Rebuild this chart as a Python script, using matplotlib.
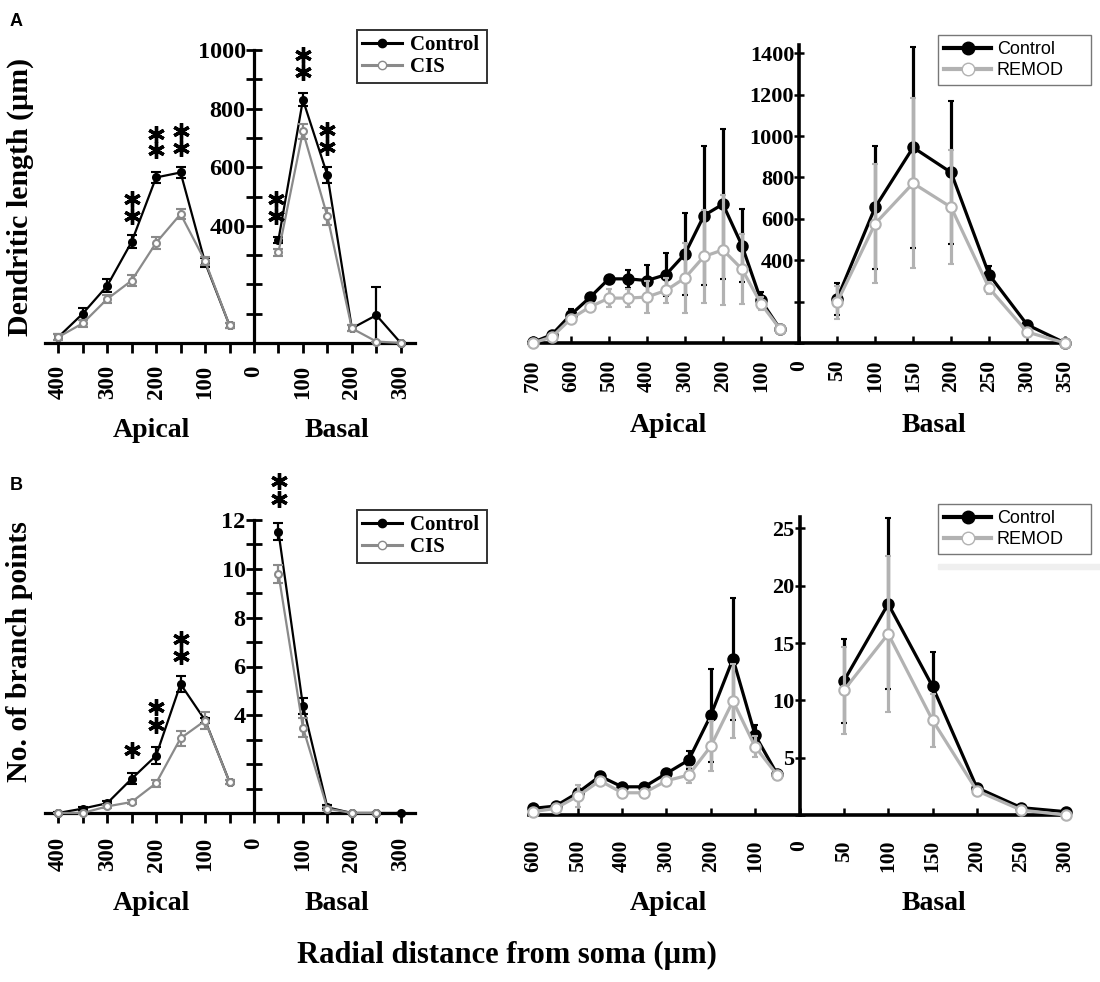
import numpy as np
from matplotlib import pyplot as plt
from matplotlib.lines import Line2D
from matplotlib.patches import Rectangle

# ---------------- data ----------------
# A left: dendritic length, Control vs CIS (x = radial distance, um)
a1_apical_d = [400, 350, 300, 250, 200, 150, 100, 50]
a1_ctl_apical = [20, 100, 195, 345, 565, 582, 275, 60]
a1_ctl_apical_err = [10, 20, 22, 22, 20, 18, 15, 8]
a1_cis_apical = [20, 67, 150, 213, 342, 440, 280, 60]
a1_cis_apical_err = [10, 12, 15, 18, 20, 18, 15, 8]
a1_basal_d = [50, 100, 150, 200, 250, 300]
a1_ctl_basal = [352, 830, 573, 50, 95, 0]
a1_ctl_basal_err = [10, 22, 27, 10, 95, 0]
a1_cis_basal = [310, 722, 432, 50, 5, 0]
a1_cis_basal_err = [12, 25, 30, 10, 0, 0]
a1_sig_d = [-250, -250, -200, -200, -150, -150, 45, 45, 100, 100, 150, 150]
a1_sig_y = [490, 433, 715, 660, 725, 665, 490, 433, 983, 925, 728, 670]

# A right: dendritic length, Control vs REMOD
a2_apical_d = [700, 650, 600, 550, 500, 450, 400, 350, 300, 250, 200, 150, 100, 50]
a2_ctl_apical = [3, 40, 137, 220, 310, 310, 302, 330, 430, 616, 671, 471, 206, 68]
a2_ctl_apical_err = [5, 8, 27, 13, 10, 43, 75, 105, 200, 336, 364, 177, 40, 8]
a2_rem_apical = [0, 29, 117, 174, 217, 217, 222, 254, 314, 418, 450, 357, 190, 68]
a2_rem_apical_err = [3, 8, 20, 15, 43, 43, 78, 60, 170, 226, 266, 170, 30, 8]
a2_basal_d = [50, 100, 150, 200, 250, 300, 350]
a2_ctl_basal = [212, 655, 945, 824, 330, 88, 0]
a2_ctl_basal_err = [78, 297, 487, 346, 40, 15, 0]
a2_rem_basal = [196, 576, 772, 656, 265, 53, 0]
a2_rem_basal_err = [80, 288, 411, 275, 30, 10, 0]

# B left: branch points, Control vs CIS
b1_apical_d = [400, 350, 300, 250, 200, 150, 100, 50]
b1_ctl_apical = [0, 0.18, 0.4, 1.4, 2.35, 5.28, 3.8, 1.27]
b1_ctl_apical_err = [0.03, 0.08, 0.08, 0.23, 0.34, 0.33, 0.1, 0.1]
b1_cis_apical = [0, 0, 0.27, 0.45, 1.22, 3.06, 3.78, 1.27]
b1_cis_apical_err = [0.02, 0.03, 0.06, 0.08, 0.15, 0.3, 0.34, 0.1]
b1_ctl_basal_d = [50, 100, 150, 200, 250, 300]
b1_ctl_basal = [11.52, 4.4, 0.23, 0, 0, 0]
b1_ctl_basal_err = [0.34, 0.33, 0.08, 0, 0, 0]
b1_cis_basal_d = [50, 100, 150, 200, 250]
b1_cis_basal = [9.8, 3.5, 0.18, 0, 0]
b1_cis_basal_err = [0.37, 0.4, 0.05, 0, 0]
b1_sig_d = [-250, -200, -200, -150, -150, 51, 51]
b1_sig_y = [2.58, 4.33, 3.6, 7.14, 6.43, 13.6, 12.86]

# B right: branch points, Control vs REMOD
b2_apical_d = [600, 550, 500, 450, 400, 350, 300, 250, 200, 150, 100, 50]
b2_ctl_apical = [0.58, 0.78, 1.94, 3.39, 2.46, 2.46, 3.63, 4.79, 8.7, 13.63, 6.96, 3.54]
b2_ctl_apical_err = [0.1, 0.1, 0.3, 0.3, 0.15, 0.15, 0.3, 0.8, 4.06, 5.3, 0.9, 0.1]
b2_rem_apical = [0.29, 0.58, 1.65, 2.99, 1.94, 1.94, 2.99, 3.48, 6.0, 9.95, 5.95, 3.48]
b2_rem_apical_err = [0.1, 0.1, 0.95, 0.3, 0.2, 0.2, 0.3, 0.7, 2.2, 3.2, 0.9, 0.1]
b2_basal_d = [50, 100, 150, 200, 250, 300]
b2_ctl_basal = [11.69, 18.42, 11.22, 2.38, 0.64, 0.29]
b2_ctl_basal_err = [3.68, 7.45, 3.0, 0.1, 0.1, 0.05]
b2_rem_basal = [10.88, 15.8, 8.27, 2.12, 0.43, 0.0]
b2_rem_basal_err = [3.77, 6.8, 2.3, 0.1, 0.1, 0]

# tick labels
left_xlabels = ['400', '300', '200', '100', '0', '100', '200', '300']
a2_xlabels = ['700', '600', '500', '400', '300', '200', '100', '0',
              '50', '100', '150', '200', '250', '300', '350']
b2_xlabels = ['600', '500', '400', '300', '200', '100', '0',
              '50', '100', '150', '200', '250', '300']
a1_ylabels = ['', '', '400', '600', '800', '1000']
b1_ylabels = ['', '', '4', '6', '8', '10', '12']
a2_ylabels = ['', '', '400', '600', '800', '1000', '1200', '1400']
b2_ylabels = ['', '5', '10', '15', '20', '25']

# ---------------- figure ----------------
plt.rcParams['font.family'] = ['Liberation Serif', 'DejaVu Serif']
plt.rcParams['font.weight'] = 'bold'
W, H = 1100, 982
fig = plt.figure(figsize=(11, 9.82), dpi=100)

def box(l, t, r, b):
    return [l / W, 1 - b / H, (r - l) / W, (b - t) / H]

DARK = 'black'
GREY_L = '#8a8a8a'   # CIS
GREY_R = '#b2b2b2'   # REMOD


def setup_axes(ax, spine_w):
    ax.patch.set_alpha(0)
    for s in ['top', 'right']:
        ax.spines[s].set_visible(False)
    ax.spines['left'].set_position(('data', 0))
    ax.spines['left'].set_linewidth(spine_w)
    ax.spines['bottom'].set_linewidth(spine_w)
    ax.spines['left'].set_zorder(1)
    ax.spines['bottom'].set_zorder(1)


def draw(ax, x, y, e, color, mfc, ms, lw, cap, z):
    ax.errorbar(x, y, yerr=e, color=color, lw=lw, marker='o', ms=ms,
                mfc=mfc, mec=color, mew=1.5, capsize=cap, elinewidth=lw,
                capthick=lw, zorder=z, clip_on=False)


neg = lambda d: [-v for v in d]
LMS, LLW = 5, 1.6     # left panels: marker size, line width
RMS, RLW = 7.5, 2.3   # right panels

# ---- A left ----
ax = fig.add_axes(box(45, 50, 415, 343))
setup_axes(ax, 2.3)
draw(ax, neg(a1_apical_d), a1_ctl_apical, a1_ctl_apical_err, DARK, DARK, LMS, LLW, 3.5, 3)
draw(ax, a1_basal_d, a1_ctl_basal, a1_ctl_basal_err, DARK, DARK, LMS, LLW, 3.5, 3)
draw(ax, neg(a1_apical_d), a1_cis_apical, a1_cis_apical_err, GREY_L, 'white', LMS, LLW, 3.5, 4)
draw(ax, a1_basal_d, a1_cis_basal, a1_cis_basal_err, GREY_L, 'white', LMS, LLW, 3.5, 4)
ax.plot(a1_sig_d, a1_sig_y, ls='none', marker=(6, 2, 0), ms=12, mew=2.4,
        color='black', clip_on=False, zorder=5)
ax.set_xlim(-427, 329)
ax.set_ylim(0, 1000)
ax.set_xticks(np.arange(-400, 301, 100), left_xlabels)
ax.set_xticks(np.arange(-400, 301, 50), minor=True)
ax.set_yticks(np.arange(0, 1001, 200), a1_ylabels)
ax.set_yticks(np.arange(0, 1001, 100), minor=True)
ax.tick_params(axis='x', which='both', direction='out', length=7, width=2,
               labelrotation=90, labelsize=16.5, pad=9)
ax.tick_params(axis='y', which='both', direction='inout', length=12, width=2,
               labelsize=17.5, pad=0)

# ---- B left ----
ax = fig.add_axes(box(45, 520, 415, 813))
setup_axes(ax, 2.3)
draw(ax, neg(b1_apical_d), b1_ctl_apical, b1_ctl_apical_err, DARK, DARK, LMS, LLW, 3.5, 3)
draw(ax, b1_ctl_basal_d, b1_ctl_basal, b1_ctl_basal_err, DARK, DARK, LMS, LLW, 3.5, 3)
draw(ax, neg(b1_apical_d), b1_cis_apical, b1_cis_apical_err, GREY_L, 'white', LMS, LLW, 3.5, 4)
draw(ax, b1_cis_basal_d, b1_cis_basal, b1_cis_basal_err, GREY_L, 'white', LMS, LLW, 3.5, 4)
ax.plot(b1_sig_d, b1_sig_y, ls='none', marker=(6, 2, 0), ms=12, mew=2.4,
        color='black', clip_on=False, zorder=5)
ax.set_xlim(-427, 329)
ax.set_ylim(0, 12)
ax.set_xticks(np.arange(-400, 301, 100), left_xlabels)
ax.set_xticks(np.arange(-400, 301, 50), minor=True)
ax.set_yticks(np.arange(0, 13, 2), b1_ylabels)
ax.set_yticks(np.arange(0, 13, 1), minor=True)
ax.tick_params(axis='x', which='both', direction='out', length=7, width=2,
               labelrotation=90, labelsize=16.5, pad=10.5)
ax.tick_params(axis='y', which='both', direction='inout', length=12, width=2,
               labelsize=17.5, pad=0)

# right panels: apical scaled by 100 um per unit, basal by 50 um per unit
ap = lambda d: [-v / 100 for v in d]
ba = lambda d: [v / 50 for v in d]

# ---- A right ----
ax = fig.add_axes(box(529, 45, 1069, 343))
setup_axes(ax, 2.6)
draw(ax, ap(a2_apical_d), a2_ctl_apical, a2_ctl_apical_err, DARK, DARK, RMS, RLW, 2, 3)
draw(ax, ba(a2_basal_d), a2_ctl_basal, a2_ctl_basal_err, DARK, DARK, RMS, RLW, 2, 3)
draw(ax, ap(a2_apical_d), a2_rem_apical, a2_rem_apical_err, GREY_R, 'white', RMS, RLW, 2, 4)
draw(ax, ba(a2_basal_d), a2_rem_basal, a2_rem_basal_err, GREY_R, 'white', RMS, RLW, 2, 4)
ax.set_xlim(-7.1, 7.1)
ax.set_ylim(0, 1440)
ax.set_xticks(np.arange(-7, 8), a2_xlabels)
ax.set_yticks(np.arange(0, 1401, 200), a2_ylabels)
ax.tick_params(axis='x', direction='in', length=5, width=1.8,
               labelrotation=90, labelsize=15.5, pad=12)
ax.tick_params(axis='y', direction='inout', length=7, width=1.8,
               labelsize=16, pad=0)

# ---- B right ----
ax = fig.add_axes(box(529, 517, 1070, 815))
setup_axes(ax, 2.6)
draw(ax, ap(b2_apical_d), b2_ctl_apical, b2_ctl_apical_err, DARK, DARK, RMS, RLW, 2, 3)
draw(ax, ba(b2_basal_d), b2_ctl_basal, b2_ctl_basal_err, DARK, DARK, RMS, RLW, 2, 3)
draw(ax, ap(b2_apical_d), b2_rem_apical, b2_rem_apical_err, GREY_R, 'white', RMS, RLW, 2, 4)
draw(ax, ba(b2_basal_d), b2_rem_basal, b2_rem_basal_err, GREY_R, 'white', RMS, RLW, 2, 4)
ax.set_xlim(-6.1, 6.1)
ax.set_ylim(0, 26)
ax.set_xticks(np.arange(-6, 7), b2_xlabels)
ax.set_yticks(np.arange(0, 26, 5), b2_ylabels)
ax.tick_params(axis='x', direction='in', length=5, width=1.8,
               labelrotation=90, labelsize=15.5, pad=18)
ax.tick_params(axis='y', direction='inout', length=7, width=1.8,
               labelsize=16, pad=0)

# ---------------- legends ----------------
def left_legend(top):
    h = [Line2D([], [], color=DARK, lw=2.2, marker='o', ms=6),
         Line2D([], [], color=GREY_L, lw=2.2, marker='o', ms=6, mfc='white')]
    leg = fig.legend(h, ['Control', 'CIS'], loc='upper left',
                     bbox_to_anchor=(357 / W, 1 - top / H, 130 / W, 0),
                     mode='expand', borderaxespad=0, fancybox=False,
                     handlelength=1.9, handletextpad=0.4, labelspacing=0.1,
                     borderpad=0.25, prop={'family': 'Liberation Serif',
                                           'weight': 'bold', 'size': 15})
    leg.get_frame().set_edgecolor('black')
    leg.get_frame().set_linewidth(1.4)


def right_legend(top):
    h = [Line2D([], [], color=DARK, lw=3, marker='o', ms=9),
         Line2D([], [], color=GREY_R, lw=3, marker='o', ms=9, mfc='white')]
    leg = fig.legend(h, ['Control', 'REMOD'], loc='upper left',
                     bbox_to_anchor=(938 / W, 1 - top / H, 153 / W, 0),
                     mode='expand', borderaxespad=0, fancybox=False,
                     handlelength=2.6, handletextpad=0.3, labelspacing=0.2,
                     borderpad=0.35, prop={'family': 'Liberation Sans',
                                           'weight': 'normal', 'size': 13})
    leg.get_frame().set_edgecolor('#555555')
    leg.get_frame().set_linewidth(1.0)


left_legend(30)
left_legend(510)
right_legend(35)
right_legend(504)

# faint band under the lower right legend
fig.patches.append(Rectangle((938 / W, 1 - 569 / H), 162 / W, 5 / H,
                             transform=fig.transFigure, color='#efefef', zorder=0))

# ---------------- texts ----------------
fig.text(10 / W, 1 - 13 / H, 'A', family='Liberation Sans', weight='bold',
         size=13, va='top', ha='left')
fig.text(10 / W, 1 - 477 / H, 'B', family='Liberation Sans', weight='bold',
         size=13, va='top', ha='left')
fig.text(20 / W, 1 - 197 / H, 'Dendritic length (\u00b5m)', rotation=90,
         size=21.5, ha='center', va='center')
fig.text(20 / W, 1 - 652 / H, 'No. of branch points', rotation=90,
         size=21.5, ha='center', va='center')
# (left y, right y) for the Apical/Basal captions of each row
for yl, yr in [(431, 426), (903, 904)]:
    fig.text(151 / W, 1 - yl / H, 'Apical', size=20, ha='center', va='center')
    fig.text(337 / W, 1 - yl / H, 'Basal', size=20, ha='center', va='center')
    fig.text(668 / W, 1 - yr / H, 'Apical', size=20, ha='center', va='center')
    fig.text(934 / W, 1 - yr / H, 'Basal', size=20, ha='center', va='center')
fig.text(507 / W, 1 - 955 / H, 'Radial distance from soma (\u00b5m)',
         size=22, ha='center', va='center')

plt.savefig('out.png', dpi=100)
